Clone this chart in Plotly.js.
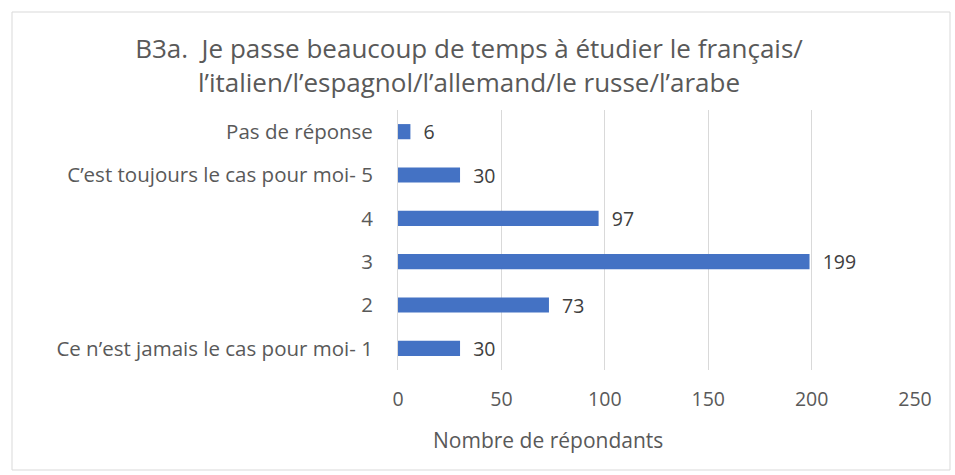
<!DOCTYPE html>
<html>
<head>
<meta charset="utf-8">
<script src="https://cdn.plot.ly/plotly-3.0.1.min.js"></script>
<style>html,body{margin:0;padding:0;background:#fff;}#chart{width:955px;height:475px;}</style>
</head>
<body>
<div id="chart"></div>
<script>
const categories = [
  "Ce n’est jamais le cas pour moi- 1",
  "2",
  "3",
  "4",
  "C’est toujours le cas pour moi- 5",
  "Pas de réponse"
];
const values = [30, 73, 199, 97, 30, 6];
const xTicks = [0, 50, 100, 150, 200, 250];

const L = 398, R = 915, T = 110, B = 370, W = 955, H = 475;
const pw = R - L, ph = B - T;
const px = x => (x - L) / pw;
const py = y => (B - y) / ph;

const font = "'Open Sans', sans-serif";

const trace = {
  type: 'bar',
  orientation: 'h',
  y: categories,
  x: values,
  marker: {color: '#4472C4'},
  text: values.map(v => '  ' + v),
  textposition: 'outside',
  constraintext: 'none',
  textfont: {size: 19.5, color: '#404040', family: font},
  cliponaxis: false,
  hoverinfo: 'none'
};

const layout = {
  width: W, height: H,
  margin: {l: L, r: W - R, t: T, b: H - B},
  paper_bgcolor: '#fff', plot_bgcolor: '#fff',
  font: {family: font, color: '#595959'},
  showlegend: false,
  bargap: 0.65,
  title: {
    text: 'B3a.  Je passe beaucoup de temps à étudier le français/<br>l’italien/l’espagnol/l’allemand/le russe/l’arabe',
    font: {size: 26, color: '#595959', family: font},
    x: 469 / W, xanchor: 'center',
    y: 1 - 58 / H, yanchor: 'middle'
  },
  xaxis: {
    range: [0, 250],
    tickvals: xTicks,
    ticktext: xTicks.map(String),
    showgrid: true, gridcolor: '#d9d9d9', gridwidth: 1,
    zeroline: false, showline: false,
    ticks: 'outside', ticklen: 12, tickcolor: 'rgba(0,0,0,0)',
    tickfont: {size: 19.5, color: '#595959', family: font},
    fixedrange: true
  },
  yaxis: {
    type: 'category',
    categoryorder: 'array', categoryarray: categories,
    showline: true, linecolor: '#d9d9d9', linewidth: 1,
    showgrid: false, zeroline: false,
    ticks: 'outside', ticklen: 20, tickcolor: 'rgba(0,0,0,0)',
    tickfont: {size: 20.5, color: '#595959', family: font},
    fixedrange: true
  },
  annotations: [{
    text: 'Nombre de répondants',
    xref: 'paper', yref: 'paper',
    x: px(548), y: py(440),
    xanchor: 'center', yanchor: 'middle',
    showarrow: false,
    font: {size: 21, color: '#595959', family: font}
  }],
  shapes: [{
    type: 'rect', xref: 'paper', yref: 'paper',
    x0: px(12), x1: px(950), y0: py(470), y1: py(12),
    line: {color: '#d9d9d9', width: 1}, fillcolor: 'rgba(0,0,0,0)', layer: 'below'
  }]
};

Plotly.newPlot('chart', [trace], layout, {displayModeBar: false, staticPlot: true});
</script>
</body>
</html>
